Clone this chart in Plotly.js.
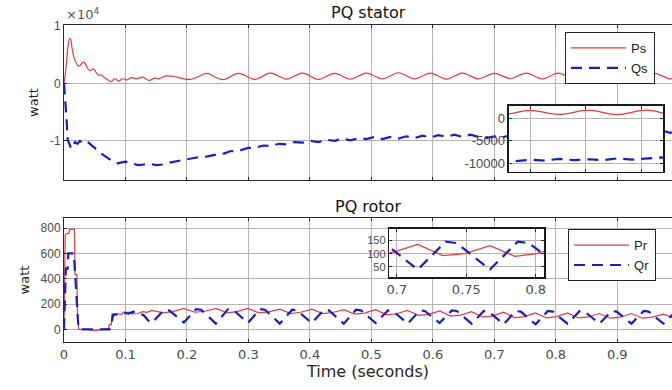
<!DOCTYPE html>
<html>
<head>
<meta charset="utf-8">
<script src="https://cdn.plot.ly/plotly-3.0.1.min.js"></script>
<style>
  html, body { margin: 0; padding: 0; background: #fff; }
  #chart { width: 672px; height: 390px; }
</style>
</head>
<body>
<div id="chart"></div>
<script>
// Stator active power Ps (W) against time (s)
const tPs = [0,0.002,0.004,0.006,0.009,0.011,0.013,0.016,0.019,0.022,0.025,0.028,0.031,0.034,0.037,0.040,0.043,0.046,0.049,0.052,0.055,0.058,0.061,0.064,0.067,0.070,0.073,0.076,0.079,0.082,0.085,0.088,0.091,0.095,0.102,0.110,0.118,0.128,0.138,0.148,0.154,0.166,0.180,0.194,0.206,0.219,0.232,0.258,0.284,0.310,0.336,0.362,0.388,0.414,0.440,0.466,0.492,0.518,0.544,0.570,0.596,0.622,0.648,0.674,0.700,0.726,0.752,0.778,0.804,0.830,0.856,0.882,0.908,0.934,0.960,0.986,0.995];
const Ps = [0,1500,3500,6000,7800,7600,6200,4600,3700,3200,3000,3300,3700,3500,2900,2400,2200,2500,2400,1900,1500,1400,1500,1200,900,700,500,300,500,800,700,400,500,800,600,1000,800,1100,500,900,800,1300,1200,800,700,1200,1750,650,1750,700,1800,750,1800,700,1750,750,1800,800,1850,800,1800,750,1800,800,1750,850,1800,800,1800,750,1750,800,1800,750,1750,800,1200];

// Stator reactive power Qs (VAr)
const tQs = [0,0.002,0.004,0.006,0.009,0.012,0.015,0.018,0.022,0.026,0.030,0.035,0.040,0.045,0.050,0.056,0.062,0.068,0.074,0.080,0.087,0.094,0.100,0.110,0.120,0.130,0.140,0.150,0.160,0.170,0.180,0.190,0.200,0.210,0.220,0.234,0.250,0.260,0.270,0.285,0.300,0.310,0.325,0.336,0.350,0.362,0.375,0.388,0.400,0.414,0.427,0.440,0.453,0.466,0.480,0.492,0.505,0.518,0.531,0.544,0.557,0.570,0.583,0.596,0.609,0.622,0.635,0.648,0.661,0.674,0.687,0.700,0.713,0.726,0.739,0.752,0.765,0.778,0.791,0.804,0.817,0.830,0.843,0.856,0.869,0.882,0.895,0.908,0.921,0.934,0.947,0.960,0.973,0.986,0.995];
const Qs = [0,-2500,-6000,-9800,-10600,-11400,-10800,-10200,-10500,-10000,-10300,-10000,-10300,-10800,-11200,-11800,-12300,-12700,-13200,-13600,-13900,-13700,-13600,-13900,-14200,-14100,-14000,-14200,-14100,-13800,-13600,-13500,-13200,-13100,-12800,-12700,-12300,-12200,-11800,-11700,-11200,-11200,-10800,-10900,-10500,-10600,-10200,-10300,-10000,-10200,-9800,-10000,-9600,-9900,-9500,-9700,-9300,-9700,-9300,-9600,-9200,-9500,-9100,-9400,-9000,-9300,-8900,-9300,-8900,-9300,-9500,-9200,-9400,-9000,-9300,-9100,-9300,-8900,-9200,-8900,-8700,-9000,-8700,-8900,-8600,-8900,-8500,-8800,-8500,-8700,-8400,-8600,-8200,-8600,-8300];

// Rotor active power Pr (W)
const tPr = [0,0.001,0.002,0.008,0.009,0.017,0.018,0.021,0.022,0.024,0.040,0.050,0.065,0.072,0.074,0.077,0.078,0.095,0.096,0.108,0.110,0.120,0.128,0.135,0.143,0.161,0.177,0.195,0.213,0.229,0.247,0.265,0.281,0.299,0.317,0.333,0.351,0.369,0.385,0.403,0.421,0.437,0.455,0.473,0.489,0.507,0.525,0.541,0.559,0.577,0.593,0.611,0.629,0.645,0.663,0.681,0.697,0.715,0.733,0.749,0.767,0.785,0.801,0.819,0.837,0.853,0.871,0.889,0.905,0.923,0.941,0.957,0.975,0.993];
const Pr = [0,450,750,760,790,790,430,430,100,0,0,-10,0,5,40,40,120,120,135,135,122,125,140,135,150,130,140,165,135,143,165,130,140,165,130,138,160,125,135,160,125,133,155,120,128,155,115,123,150,110,118,145,105,113,140,98,105,135,93,100,130,90,100,130,90,98,125,88,96,125,88,96,120,90];

// Rotor reactive power Qr (VAr)
const tQr = [0,0.001,0.002,0.003,0.006,0.007,0.016,0.018,0.020,0.023,0.025,0.074,0.076,0.078,0.080,0.090,0.098,0.105,0.113,0.120,0.130,0.137,0.143,0.163,0.171,0.195,0.215,0.223,0.247,0.267,0.275,0.299,0.319,0.327,0.351,0.371,0.379,0.403,0.423,0.431,0.455,0.475,0.483,0.507,0.527,0.535,0.559,0.579,0.587,0.611,0.631,0.639,0.663,0.683,0.691,0.715,0.735,0.743,0.767,0.787,0.795,0.819,0.839,0.847,0.871,0.891,0.899,0.923,0.943,0.951,0.975,0.995];
const Qr = [0,150,300,480,480,600,600,450,250,50,0,0,20,70,115,120,130,125,140,135,110,70,50,155,150,55,160,155,45,160,155,50,160,155,45,155,150,50,155,150,45,155,150,50,150,145,45,150,145,50,150,145,45,145,140,40,145,140,40,145,140,45,145,140,45,145,140,45,145,140,45,140];

// Tick positions and labels
const timeTicks = [0,0.1,0.2,0.3,0.4,0.5,0.6,0.7,0.8,0.9];
const statorTicks = [-10000,0,10000];
const statorTickText = ['-1','0','1'];
const rotorTicks = [0,200,400,600,800];
const statorZoomTicks = [-10000,-5000,0];
const statorZoomText = ['-10000','-5000','0'];
const rotorZoomTicks = [50,100,150];
const zoomTimeTicks = [0.7,0.75,0.8];
const zoomTimeText = ['0.7','0.75','0.8'];

const FONT = 'Liberation Sans, Arial, Helvetica, sans-serif';
const WIDE = 'DejaVu Sans, Verdana, sans-serif';
const RED = '#e23b3d';
const BLUE = '#1c1cc4';
const GRID = '#b3b3b3';
const AXIS = '#2a2a2a';
const TICKTXT = '#4a4a4a';

function axisBase(extra) {
  return Object.assign({
    showgrid: true, gridcolor: GRID, gridwidth: 1,
    zeroline: false,
    showline: true, linecolor: AXIS, linewidth: 1,
    ticks: 'inside', ticklen: 3, tickcolor: AXIS,
    tickfont: { family: FONT, size: 12, color: TICKTXT },
    fixedrange: true
  }, extra);
}

const xTickFont = { family: WIDE, size: 13, color: TICKTXT };
const redLine = { color: RED, width: 1.2 };
const blueLine = { color: BLUE, width: 2.2, dash: '11px,7px' };

const traces = [
  { x: tPs, y: Ps, name: 'Ps', type: 'scatter', mode: 'lines', xaxis: 'x', yaxis: 'y',
    line: Object.assign({ shape: 'spline', smoothing: 1 }, redLine), legend: 'legend' },
  { x: tQs, y: Qs, name: 'Qs', type: 'scatter', mode: 'lines', xaxis: 'x', yaxis: 'y',
    line: blueLine, legend: 'legend' },
  { x: tPr, y: Pr, name: 'Pr', type: 'scatter', mode: 'lines', xaxis: 'x2', yaxis: 'y2',
    line: redLine, legend: 'legend2' },
  { x: tQr, y: Qr, name: 'Qr', type: 'scatter', mode: 'lines', xaxis: 'x2', yaxis: 'y2',
    line: blueLine, legend: 'legend2' },
  // zoomed views
  { x: tPs, y: Ps, type: 'scatter', mode: 'lines', xaxis: 'x3', yaxis: 'y3', showlegend: false,
    line: Object.assign({ shape: 'spline', smoothing: 1 }, redLine) },
  { x: tQs, y: Qs, type: 'scatter', mode: 'lines', xaxis: 'x3', yaxis: 'y3', showlegend: false,
    line: blueLine },
  { x: tPr, y: Pr, type: 'scatter', mode: 'lines', xaxis: 'x4', yaxis: 'y4', showlegend: false,
    line: redLine },
  { x: tQr, y: Qr, type: 'scatter', mode: 'lines', xaxis: 'x4', yaxis: 'y4', showlegend: false,
    line: blueLine }
];

const legendBox = {
  xanchor: 'left', yanchor: 'top',
  bgcolor: '#ffffff', bordercolor: '#222222', borderwidth: 1,
  itemwidth: 55,
  font: { family: FONT, size: 13, color: '#222' }
};

const layout = {
  width: 672, height: 390,
  margin: { l: 64, r: 0, t: 25, b: 48 },
  paper_bgcolor: '#ffffff', plot_bgcolor: '#ffffff',
  font: { family: FONT },
  showlegend: true,
  legend: Object.assign({ x: 0.824, y: 0.978 }, legendBox),
  legend2: Object.assign({ x: 0.829, y: 0.356 }, legendBox),
  xaxis: axisBase({ domain: [0, 1], anchor: 'y', range: [0, 0.989],
    tickvals: timeTicks, showticklabels: false, mirror: 'ticks' }),
  yaxis: axisBase({ domain: [0.511, 1], anchor: 'x', range: [-16800, 10150],
    tickvals: statorTicks, ticktext: statorTickText,
    title: { text: 'watt', standoff: 8, font: { family: WIDE, size: 13, color: '#262626' } } }),
  xaxis2: axisBase({ domain: [0, 1], anchor: 'y2', range: [0, 0.989],
    tickvals: timeTicks, mirror: 'ticks', tickfont: xTickFont,
    title: { text: 'Time (seconds)', standoff: 4, font: { family: WIDE, size: 16, color: '#262626' } } }),
  yaxis2: axisBase({ domain: [0, 0.3912], anchor: 'x2', range: [-100, 880],
    tickvals: rotorTicks,
    title: { text: 'watt', standoff: 8, font: { family: WIDE, size: 13, color: '#262626' } } }),
  xaxis3: axisBase({ domain: [0.7319, 0.9852], anchor: 'y3', range: [0.681, 0.819],
    tickvals: zoomTimeTicks, showticklabels: false, mirror: 'ticks',
    linecolor: '#1a1a1a', linewidth: 1.5 }),
  yaxis3: axisBase({ domain: [0.5363, 0.7445], anchor: 'x3', range: [-11930, 2730],
    tickvals: statorZoomTicks, ticktext: statorZoomText, mirror: 'ticks',
    tickfont: { family: FONT, size: 13, color: TICKTXT },
    linecolor: '#1a1a1a', linewidth: 1.5 }),
  xaxis4: axisBase({ domain: [0.5350, 0.7896], anchor: 'y4', range: [0.6945, 0.806],
    tickvals: zoomTimeTicks, ticktext: zoomTimeText, mirror: 'ticks', tickfont: xTickFont,
    linecolor: '#1a1a1a', linewidth: 1.5 }),
  yaxis4: axisBase({ domain: [0.2050, 0.3565], anchor: 'x4', range: [12, 193],
    tickvals: rotorZoomTicks, mirror: 'ticks',
    tickfont: { family: FONT, size: 11, color: TICKTXT },
    linecolor: '#1a1a1a', linewidth: 1.5 }),
  annotations: [
    { text: 'PQ stator', xref: 'paper', yref: 'paper', x: 0.5, y: 1.041,
      xanchor: 'center', yanchor: 'middle', showarrow: false,
      font: { family: WIDE, size: 16, color: '#111' } },
    { text: 'PQ rotor', xref: 'paper', yref: 'paper', x: 0.5, y: 0.429,
      xanchor: 'center', yanchor: 'middle', showarrow: false,
      font: { family: WIDE, size: 16, color: '#111' } },
    { text: '\u00d710<sup>4</sup>', xref: 'paper', yref: 'paper', x: 0.0, y: 1.035,
      xanchor: 'left', yanchor: 'middle', showarrow: false,
      font: { family: WIDE, size: 13, color: '#555' } }
  ]
};

Plotly.newPlot('chart', traces, layout, { staticPlot: true, displayModeBar: false });
</script>
</body>
</html>
